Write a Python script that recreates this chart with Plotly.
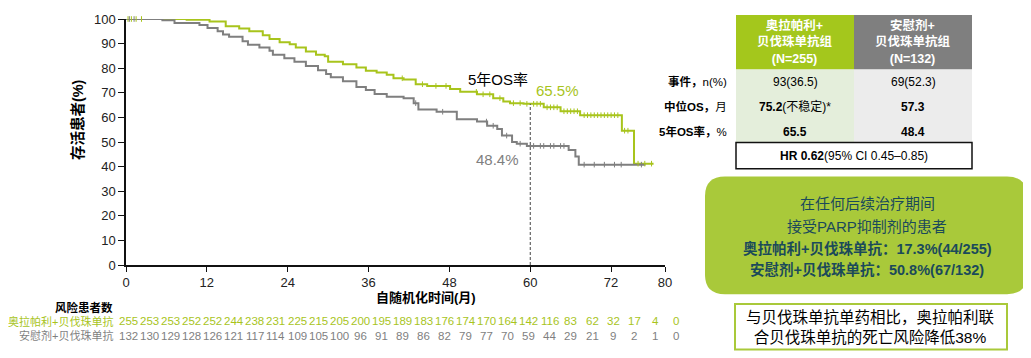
import numpy as np
import plotly.graph_objects as go

# ---------------- data ----------------
ola_t = [0, 9.0, 12.4, 14.8, 16.8, 18.3, 20.3, 21.3, 22.8, 24.3, 25.2, 26.7, 28.2, 29.5, 30.0, 32.2,
         34.2, 35.6, 37.2, 38.7, 39.7, 41.2, 43.0, 44.7, 48.1, 49.6, 52.1, 54.5, 56.0, 57.0, 59.0,
         62.0, 64.5, 67.4, 73.6, 75.4, 78.3]
ola_s = [100, 99.7, 99.0, 97.1, 96.1, 95.0, 93.4, 91.9, 90.5, 89.7, 88.4, 86.8, 85.5, 84.9, 82.6, 81.6,
         80.3, 79.0, 78.3, 77.3, 75.9, 75.4, 73.5, 72.8, 71.5, 70.4, 69.4, 67.8, 66.5, 65.8, 65.5,
         64.1, 62.5, 60.9, 54.6, 41.2, 41.2]
pla_t = [0, 5.4, 7.2, 10.9, 12.1, 13.6, 14.4, 15.3, 17.3, 18.1, 19.8, 21.3, 21.8, 23.5, 25.0, 26.7,
         28.5, 29.7, 30.4, 32.2, 34.2, 35.6, 36.9, 38.7, 41.2, 42.7, 43.4, 46.1, 49.1, 52.1, 53.6,
         55.1, 55.8, 57.3, 58.0, 59.5, 65.7, 66.7, 67.2, 77.1]
pla_s = [100, 99.5, 98.4, 97.6, 96.3, 95.0, 93.7, 92.8, 91.0, 89.5, 88.4, 87.1, 85.5, 84.0, 82.6, 80.9,
         79.2, 77.6, 76.3, 74.7, 72.4, 71.1, 69.5, 68.4, 67.8, 65.8, 63.2, 62.3, 59.2, 58.3, 56.6,
         55.3, 52.6, 50.0, 49.3, 48.4, 46.7, 44.1, 40.8, 40.8]
ola_censor = [0.3, 0.8, 1.5, 2.3, 41, 44, 46, 47.5, 52, 53, 54, 55.5, 57.5, 58.5, 59.5, 60.5, 61, 61.5,
              62.5, 63, 63.5, 64, 65, 65.5, 66, 66.5, 67, 68, 68.5, 69, 69.5, 70, 70.5, 71, 71.5, 72,
              72.5, 73, 74, 74.5, 76, 77, 78]
pla_censor = [0.5, 1.2, 43, 47, 53.5, 54.5, 56.5, 58.5, 60.5, 61.5, 62, 63, 63.5, 64.5, 65, 68, 69.5,
              71, 72.5, 73.5, 76.5]

x_ticks = [0, 12, 24, 36, 48, 60, 72, 80]
y_ticks = [0, 10, 20, 30, 40, 50, 60, 70, 80, 90, 100]

risk_ola = [255, 253, 253, 252, 252, 244, 238, 231, 225, 215, 205, 200, 195, 189, 183, 176, 174, 170,
            164, 142, 116, 83, 62, 32, 17, 4, 0]
risk_pla = [132, 130, 129, 128, 126, 121, 117, 114, 109, 105, 100, 96, 91, 89, 86, 82, 79, 77, 70, 59,
            44, 29, 21, 9, 2, 1, 0]

landmark = 60
rate_ola = "65.5%"
rate_pla = "48.4%"

# ---------------- style ----------------
GREEN = "#a8c41c"
GRAY = "#7f7f7f"
BOXGREEN = "#a9c93a"
FONT = "Liberation Sans, Arial, Noto Sans CJK SC, sans-serif"

W, H = 1031, 358
L, R, T, B = 126, 665, 12, 265   # plot area in page pixels
OFF = 8                           # default body margin of the page


def px(x):
    return (x - L) / (R - L)


def py(y):
    return (B - y) / (B - T)


def surv_at(times, surv, t):
    times = np.asarray(times)
    surv = np.asarray(surv)
    idx = np.searchsorted(times, t, side="right") - 1
    return surv[idx]


fig = go.Figure()
fig.add_trace(go.Scatter(x=ola_t, y=ola_s, mode="lines", line=dict(color=GREEN, width=2, shape="hv"),
                         cliponaxis=False, hoverinfo="skip"))
fig.add_trace(go.Scatter(x=pla_t, y=pla_s, mode="lines", line=dict(color=GRAY, width=2, shape="hv"),
                         cliponaxis=False, hoverinfo="skip"))
fig.add_trace(go.Scatter(x=ola_censor, y=surv_at(ola_t, ola_s, ola_censor), mode="markers",
                         marker=dict(symbol="line-ns", size=4, line=dict(color=GREEN, width=1)),
                         cliponaxis=False, hoverinfo="skip"))
fig.add_trace(go.Scatter(x=pla_censor, y=surv_at(pla_t, pla_s, pla_censor), mode="markers",
                         marker=dict(symbol="line-ns", size=4, line=dict(color=GRAY, width=1)),
                         cliponaxis=False, hoverinfo="skip"))

shapes = []
shapes.append(dict(type="line", xref="x", yref="y", x0=landmark, x1=landmark, y0=0,
                   y1=float(surv_at(ola_t, ola_s, landmark)),
                   line=dict(color="#444", width=1, dash="3px,2px")))


def rect(x0, y0, x1, y1, fill, line=None, lw=0):
    d = dict(type="rect", xref="paper", yref="paper", x0=px(x0), x1=px(x1), y0=py(y1), y1=py(y0),
             fillcolor=fill, layer="below")
    d["line"] = dict(color=line if line else fill, width=lw)
    return d

shapes.append(rect(736, 8, 854, 64, "#a4c71c"))
shapes.append(rect(854, 8, 972, 64, "#7f7f7f"))
shapes.append(rect(736, 64, 854, 139, "#e4eedb"))
shapes.append(rect(854, 64, 972, 139, "#ececec"))
shapes.append(dict(type="rect", xref="paper", yref="paper", x0=px(736), x1=px(972), y0=py(166), y1=py(139),
                   fillcolor="white", line=dict(color="#111", width=1.5)))


def rounded(x0, y0, x1, y1, r):
    pts = [("M", x0 + r, y0), ("L", x1 - r, y0), ("Q", x1, y0, x1, y0 + r), ("L", x1, y1 - r),
           ("Q", x1, y1, x1 - r, y1), ("L", x0 + r, y1), ("Q", x0, y1, x0, y1 - r), ("L", x0, y0 + r),
           ("Q", x0, y0, x0 + r, y0)]
    s = ""
    for p in pts:
        s += p[0]
        coords = p[1:]
        for i in range(0, len(coords), 2):
            s += " %.5f,%.5f " % (px(coords[i]), py(coords[i + 1]))
    return s + "Z"

shapes.append(dict(type="path", xref="paper", yref="paper", path=rounded(705, 174, 1027, 295, 20),
                   fillcolor=BOXGREEN, line=dict(color=BOXGREEN, width=0)))
shapes.append(dict(type="rect", xref="paper", yref="paper", x0=px(735), x1=px(1007), y0=py(352), y1=py(305),
                   fillcolor="white", line=dict(color=BOXGREEN, width=2)))

ann = []


def text(t, x, y, size, color="black", anchor="center", angle=0):
    ann.append(dict(text=t, xref="paper", yref="paper", x=px(x), y=py(y), xanchor=anchor, yanchor="middle",
                    showarrow=False, font=dict(family=FONT, size=size, color=color), textangle=angle,
                    align="center"))

text("5年OS率", 498, 74, 15)
text(rate_ola, 557, 86, 15, GREEN)
text(rate_pla, 497, 156, 15, GRAY)
text("<b>存活患者(%)</b>", 77, 116, 14.5, angle=-90)
text("<b>自随机化时间(月)</b>", 426, 298, 13)

text("<b>风险患者数</b>", 115, 309, 11.5, anchor="right")
text("奥拉帕利+贝伐珠单抗", 115, 323, 11, GREEN, anchor="right")
text("安慰剂+贝伐珠单抗", 115, 338, 11, GRAY, anchor="right")
for i, (a, b) in enumerate(zip(risk_ola, risk_pla)):
    xx = 128.5 + i * 21.07
    text(str(a), xx, 323, 11.5, GREEN)
    text(str(b), xx, 338, 11.5, GRAY)

text("<b>奥拉帕利+<br>贝伐珠单抗组<br>(N=255)</b>", 795, 36, 12.5, "white")
text("<b>安慰剂+<br>贝伐珠单抗组<br>(N=132)</b>", 913, 36, 12.5, "white")
text("<b>事件，</b>n(%)", 729, 76, 11.5, anchor="right")
text("<b>中位OS，</b>月", 729, 102, 11.5, anchor="right")
text("<b>5年OS率，</b>%", 729, 128, 11.5, anchor="right")
text("93(36.5)", 795, 77, 12)
text("69(52.3)", 913, 77, 12)
text("<b>75.2</b>(不稳定)*", 795, 102, 12)
text("<b>57.3</b>", 913, 102, 12)
text("<b>65.5</b>", 795, 128, 12)
text("<b>48.4</b>", 913, 128, 12)
text("<b>HR 0.62</b>(95% CI 0.45–0.85)", 854, 153, 12)

TEAL = "#1b4a5a"
text("在任何后续治疗期间", 867, 202, 15, TEAL)
text("接受PARP抑制剂的患者", 867, 225, 15, TEAL)
text("<b>奥拉帕利+贝伐珠单抗：17.3%(44/255)</b>", 867, 248, 14.5, TEAL)
text("<b>安慰剂+贝伐珠单抗：50.8%(67/132)</b>", 867, 270, 14.5, TEAL)

text("与贝伐珠单抗单药相比，奥拉帕利联<br>合贝伐珠单抗的死亡风险降低38%", 870, 329, 15.5)

fig.update_layout(
    width=W, height=H,
    margin=dict(l=L - OFF, r=W - (R - L) - (L - OFF), t=T - OFF, b=H - (B - T) - (T - OFF)),
    paper_bgcolor="white", plot_bgcolor="white", showlegend=False,
    font=dict(family=FONT, size=12, color="#222"),
    shapes=shapes, annotations=ann,
    xaxis=dict(range=[0, 80], tickvals=x_ticks, ticks="outside", ticklen=5, tickwidth=1, tickcolor="#111",
               showline=True, linecolor="#111", linewidth=1.5, showgrid=False, zeroline=False,
               tickfont=dict(size=13, color="#222"), ticklabeloverflow="allow"),
    yaxis=dict(range=[0, 100], tickvals=y_ticks, ticks="outside", ticklen=6, tickwidth=1, tickcolor="#111",
               showline=True, linecolor="#111", linewidth=1.5, showgrid=False, zeroline=False,
               tickfont=dict(size=13, color="#222"), ticklabeloverflow="allow"),
)

fig.write_html("out.html")
